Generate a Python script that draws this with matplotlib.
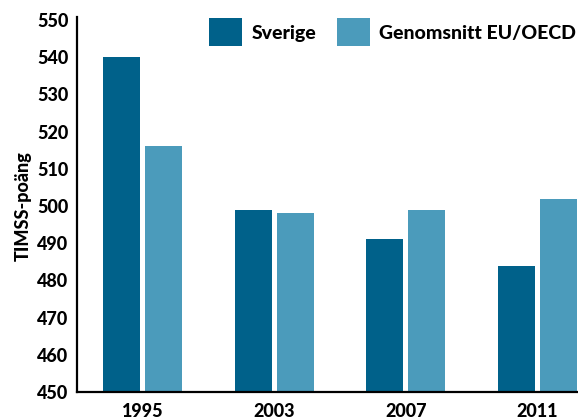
import matplotlib
matplotlib.use("Agg")
import matplotlib.pyplot as plt
import numpy as np

years = ["1995", "2003", "2007", "2011"]
sverige = [540, 499, 491, 484]
eu_oecd = [516, 498, 499, 502]

C_SVE = "#00618a"
C_EU = "#4b9bbb"
W = 900

plt.rcParams["font.family"] = ["Lato", "DejaVu Sans"]

fig = plt.figure(figsize=(5.78, 4.17), dpi=100)
ax = fig.add_axes([0.133, 0.06, 0.867, 0.892])

x = np.arange(len(years))
w = 0.28
off = 0.16
ax.bar(x - off, sverige, w, color=C_SVE, label="Sverige")
ax.bar(x + off, eu_oecd, w, color=C_EU, label="Genomsnitt EU/OECD")

ax.set_ylim(450, 550)
ax.set_xlim(-0.5, 3.31)
ax.set_yticks(range(450, 551, 10))
ax.set_xticks(x)
ax.set_xticklabels(years)
ax.tick_params(length=0, labelsize=13, pad=6)
ax.tick_params(axis="x", pad=8)
for lbl in ax.get_xticklabels() + ax.get_yticklabels():
    lbl.set_fontweight(W)

for s in ["top", "right"]:
    ax.spines[s].set_visible(False)
for s in ["left", "bottom"]:
    ax.spines[s].set_linewidth(1.6)
    ax.spines[s].set_color("black")
ax.spines["left"].set_bounds(450, 550.8)
ax.set_ylabel("TIMSS-poäng", fontsize=13, fontweight=W, labelpad=4)

ax.legend(loc="upper right", bbox_to_anchor=(1.0, 1.01), ncol=2, frameon=False,
          prop={"size": 14, "weight": W}, handlelength=1.7, handleheight=1.85,
          handletextpad=0.45, columnspacing=1.1, borderaxespad=0.0, borderpad=0.1)

fig.savefig("out.png", dpi=100)
